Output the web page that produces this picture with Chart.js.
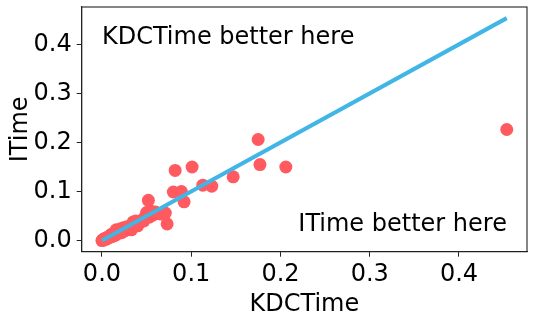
<!DOCTYPE html>
<html>
<head>
<meta charset="utf-8">
<script src="https://cdn.jsdelivr.net/npm/chart.js@4"></script>
<style>
  body { margin: 0; background: #fff; }
  canvas { display: block; }
</style>
</head>
<body>
<canvas id="myChart" width="534" height="318"></canvas>
<script>
// KDCTime (x) vs ITime (y)
const kdcTime = [
  0.000, 0.001, 0.002, 0.003, 0.005, 0.006, 0.008, 0.010, 0.011, 0.013,
  0.014, 0.016, 0.017, 0.019, 0.021, 0.022, 0.024, 0.026, 0.028, 0.030,
  0.032, 0.033, 0.035, 0.036, 0.038, 0.040, 0.042, 0.045, 0.047, 0.049,
  0.050, 0.052, 0.053, 0.055, 0.057, 0.060, 0.063, 0.066, 0.071, 0.073,
  0.080, 0.082, 0.089, 0.092, 0.101, 0.113, 0.123, 0.147, 0.175, 0.177,
  0.206, 0.4535
];
const iTime = [
  0.000, 0.002, 0.001, 0.004, 0.003, 0.007, 0.006, 0.012, 0.008, 0.015,
  0.010, 0.022, 0.013, 0.018, 0.024, 0.016, 0.026, 0.020, 0.028, 0.025,
  0.030, 0.022, 0.038, 0.033, 0.040, 0.030, 0.036, 0.042, 0.040, 0.050,
  0.057, 0.082, 0.048, 0.060, 0.052, 0.058, 0.055, 0.054, 0.056, 0.034,
  0.099, 0.143, 0.100, 0.079, 0.150, 0.113, 0.111, 0.130, 0.206, 0.155,
  0.150, 0.2265
];
const diagonal = [0, 0.4535];

const xTicks = [0.0, 0.1, 0.2, 0.3, 0.4];
const yTicks = [0.0, 0.1, 0.2, 0.3, 0.4];

const noteTexts = ["KDCTime better here", "ITime better here"];
const noteX = [0.0, 0.22];
const noteY = [0.4, 0.02];

const FONT = "'DejaVu Sans', sans-serif";

const points = kdcTime.map((x, i) => ({ x: x, y: iTime[i] }));
const linePoints = diagonal.map((v) => ({ x: v, y: v }));

const boxPlugin = {
  id: 'box',
  afterDatasetsDraw(chart) {
    const { ctx, chartArea, scales } = chart;
    ctx.save();
    ctx.strokeStyle = '#222';
    ctx.lineWidth = 1.1;
    ctx.strokeRect(chartArea.left, chartArea.top, chartArea.right - chartArea.left, chartArea.bottom - chartArea.top);
    ctx.fillStyle = '#000';
    ctx.font = `24px ${FONT}`;
    ctx.textBaseline = 'alphabetic';
    ctx.textAlign = 'left';
    noteTexts.forEach((t, i) => {
      ctx.fillText(t, scales.x.getPixelForValue(noteX[i]), scales.y.getPixelForValue(noteY[i]));
    });
    ctx.restore();
  }
};

const ctx = document.getElementById('myChart').getContext('2d');
const myChart = new Chart(ctx, {
  data: {
    datasets: [
      {
        type: 'line',
        data: linePoints,
        borderColor: '#41B6E6',
        borderWidth: 4,
        pointRadius: 0,
        fill: false
      },
      {
        type: 'scatter',
        data: points,
        backgroundColor: '#FF5A5F',
        borderWidth: 0,
        pointRadius: 6.5
      }
    ]
  },
  options: {
    responsive: false,
    animation: false,
    layout: { padding: { top: 7, right: 7, left: 0, bottom: 0 } },
    plugins: { legend: { display: false }, tooltip: { enabled: false } },
    scales: {
      x: {
        type: 'linear',
        min: -0.02268,
        max: 0.47618,
        afterBuildTicks: (scale) => { scale.ticks = xTicks.map((v) => ({ value: v })); },
        afterFit: (scale) => {
          scale.height = 66.3;
          scale.paddingLeft = 0;
          scale.paddingRight = 0;
        },
        grid: { drawOnChartArea: false, drawTicks: true, tickLength: 5, tickColor: '#222' },
        border: { color: '#222', width: 1.1 },
        ticks: {
          color: '#000',
          font: { family: FONT, size: 24 },
          padding: 4,
          maxRotation: 0,
          callback: (v) => v.toFixed(1)
        },
        title: { display: true, text: 'KDCTime', color: '#000', font: { family: FONT, size: 24 }, padding: { top: 0, bottom: -1 } }
      },
      y: {
        type: 'linear',
        min: -0.02268,
        max: 0.47618,
        afterBuildTicks: (scale) => { scale.ticks = yTicks.map((v) => ({ value: v })); },
        afterFit: (scale) => {
          scale.width = 81.7;
          scale.paddingTop = 0;
          scale.paddingBottom = 0;
        },
        grid: { drawOnChartArea: false, drawTicks: true, tickLength: 5, tickColor: '#222' },
        border: { color: '#222', width: 1.1 },
        ticks: {
          color: '#000',
          font: { family: FONT, size: 24 },
          padding: 5,
          callback: (v) => v.toFixed(1)
        },
        title: { display: true, text: 'ITime', color: '#000', font: { family: FONT, size: 24 }, padding: { top: 6, bottom: 0 } }
      }
    }
  },
  plugins: [boxPlugin]
});
</script>
</body>
</html>
